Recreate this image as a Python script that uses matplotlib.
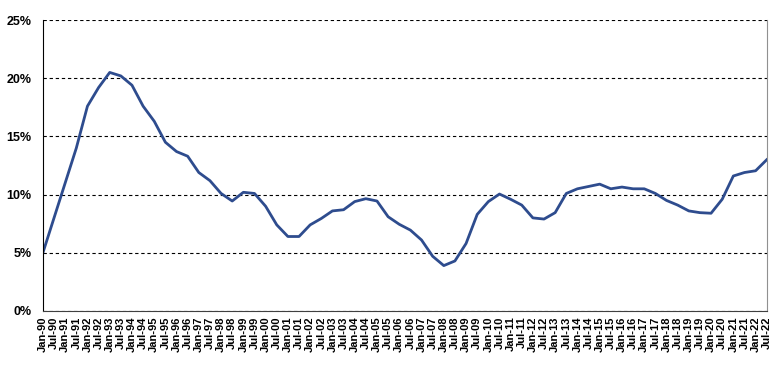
import matplotlib.pyplot as plt
from matplotlib.ticker import FuncFormatter

# semi-annual observations, Jan-90 .. Jul-22 (percent)
years = list(range(90, 100)) + list(range(0, 23))
labels = []
for yr in years:
    labels.append(f"Jan-{yr:02d}")
    labels.append(f"Jul-{yr:02d}")

values = [5.0, 8.0, 11.0, 14.0, 17.6, 19.2, 20.5, 20.2, 19.4, 17.6,
          16.3, 14.5, 13.7, 13.3, 11.9, 11.2, 10.1, 9.45, 10.2, 10.1,
          9.0, 7.4, 6.4, 6.4, 7.4, 7.95, 8.6, 8.7, 9.4, 9.65,
          9.45, 8.1, 7.45, 6.95, 6.1, 4.7, 3.9, 4.3, 5.8, 8.3,
          9.4, 10.05, 9.6, 9.1, 8.0, 7.9, 8.45, 10.1, 10.5, 10.7,
          10.9, 10.5, 10.65, 10.5, 10.5, 10.1, 9.5, 9.1, 8.6, 8.45,
          8.4, 9.6, 11.6, 11.9, 12.05, 13.0]

plt.rcParams['font.family'] = ['Liberation Sans', 'DejaVu Sans']

fig = plt.figure(figsize=(7.8, 3.65), dpi=100)
ax = fig.add_axes([0.055, 0.148, 0.928, 0.797])

x = list(range(len(values)))
ax.plot(x, values, color='#2E4C8E', linewidth=2.0, solid_joinstyle='round')

ax.set_xlim(0, len(values) - 1)
ax.set_ylim(0, 25)
ax.set_yticks([0, 5, 10, 15, 20, 25])
ax.yaxis.set_major_formatter(FuncFormatter(lambda v, p: f"{v:.0f}%"))
ax.set_xticks(x)
ax.set_xticklabels(labels, rotation=90, fontsize=8, fontweight='bold')
for t in ax.get_yticklabels():
    t.set_fontweight('bold')
    t.set_fontsize(9)

ax.yaxis.grid(True, linestyle=(0, (3, 2.5)), color='black', linewidth=0.8)
ax.set_axisbelow(True)
ax.tick_params(axis='both', length=0, pad=4)
ax.tick_params(axis='y', pad=8)

ax.spines['top'].set_visible(False)
ax.spines['left'].set_color('black')
ax.spines['bottom'].set_color('#404040')
ax.spines['right'].set_color('#909090')

fig.savefig('out.png', dpi=100)
